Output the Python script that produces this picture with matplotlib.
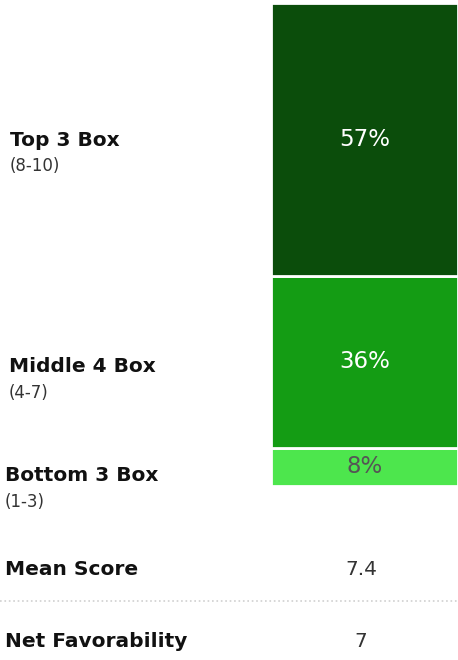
import matplotlib.pyplot as plt

# data
categories = ["Bottom 3 Box", "Middle 4 Box", "Top 3 Box"]
ranges = ["(1-3)", "(4-7)", "(8-10)"]
values = [8, 36, 57]
colors = ["#4de64d", "#149c14", "#0b4d0b"]
text_colors = ["#555555", "white", "white"]
stat_names = ["Mean Score", "Net Favorability"]
stat_values = ["7.4", "7"]

W, H = 458, 660
plt.rcParams['font.family'] = ['DejaVu Sans']
fig = plt.figure(figsize=(W / 100, H / 100), dpi=100)

def fx(px):
    return px / W

def fy(py):
    return 1 - py / H

# bar axes
ax = fig.add_axes([fx(271), fy(486), fx(458) - fx(271), (486 - 3) / H])
ax.set_xlim(0, 1)
ax.set_ylim(0, sum(values))
bottom = 0
for v, c, tc in zip(values, colors, text_colors):
    ax.bar(0.5, v, width=1, bottom=bottom, color=c, edgecolor="white", linewidth=2)
    ax.text(0.5, bottom + v / 2, f"{v}%", color=tc, ha="center", va="center", fontsize=16.5)
    bottom += v
ax.axis("off")

# left labels (baseline positions in px)
label_y = [481, 372, 146]
sub_y = [507, 398, 171]
label_x = [5, 9, 10]
for cat, r, ly, sy, lx in zip(categories, ranges, label_y, sub_y, label_x):
    fig.text(fx(lx), fy(ly), cat, fontsize=14.5, fontweight="bold", va="baseline", ha="left", color="#111111")
    fig.text(fx(lx), fy(sy), r, fontsize=12, va="baseline", ha="left", color="#333333")

# stats
stat_y = [575, 647]
for name, val, sy in zip(stat_names, stat_values, stat_y):
    fig.text(fx(5), fy(sy), name, fontsize=14.5, fontweight="bold", va="baseline", ha="left", color="#111111")
    fig.text(fx(361), fy(sy), val, fontsize=14.5, va="baseline", ha="center", color="#333333")

fig.add_artist(plt.Line2D([0, 1], [fy(601), fy(601)], color="#d0d0d0", linestyle=":", linewidth=1.2))

plt.savefig("out.png", dpi=100)
